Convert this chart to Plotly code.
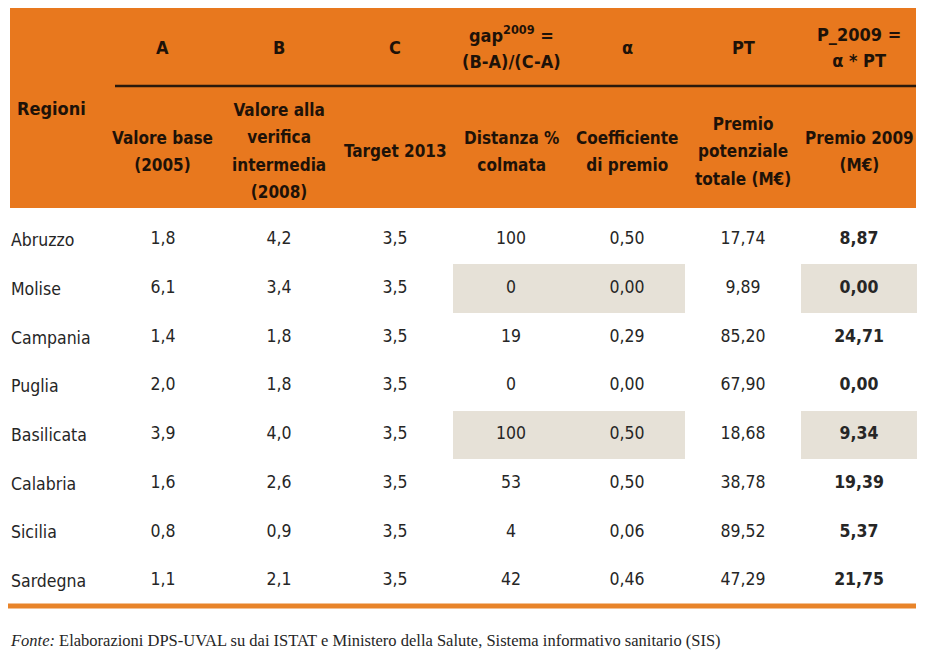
import plotly.graph_objects as go

# dati della tabella
regioni = ["Abruzzo", "Molise", "Campania", "Puglia", "Basilicata",
           "Calabria", "Sicilia", "Sardegna"]
colonne = ["Regioni", "A", "B", "C", "gap", "alpha", "PT", "P2009"]

valore_base = [1.8, 6.1, 1.4, 2.0, 3.9, 1.6, 0.8, 1.1]
valore_2008 = [4.2, 3.4, 1.8, 1.8, 4.0, 2.6, 0.9, 2.1]
target_2013 = [3.5, 3.5, 3.5, 3.5, 3.5, 3.5, 3.5, 3.5]
distanza = [100, 0, 19, 0, 100, 53, 4, 42]
coefficiente = [0.50, 0.00, 0.29, 0.00, 0.50, 0.50, 0.06, 0.46]
premio_potenziale = [17.74, 9.89, 85.20, 67.90, 18.68, 38.78, 89.52, 47.29]
premio_2009 = [8.87, 0.00, 24.71, 0.00, 9.34, 19.39, 5.37, 21.75]

# celle evidenziate (regione, colonna)
evidenziate = [("Molise", "gap"), ("Molise", "alpha"), ("Molise", "P2009"),
               ("Basilicata", "gap"), ("Basilicata", "alpha"), ("Basilicata", "P2009")]

intestazione_sopra = [["A"], ["B"], ["C"], ["gap<sup>2009</sup> =", "(B-A)/(C-A)"], ["α"], ["PT"],
                      ["P_2009 =", "α * PT"]]
intestazione_sotto = [["Valore base", "(2005)"], ["Valore alla", "verifica", "intermedia", "(2008)"],
                      ["Target 2013"], ["Distanza %", "colmata"], ["Coefficiente", "di premio"],
                      ["Premio", "potenziale", "totale (M€)"], ["Premio 2009", "(M€)"]]

W, H = 929, 667
OFF = 8  # margine della pagina html
ORANGE = "#E8781E"
SHADE = "#E6E1D7"
TXT = "#262626"
HTXT = "#1e1208"
FONT = "DejaVu Sans Condensed, sans-serif"


def fx(p):
    return (p - OFF) / W


def fy(p):
    return 1 - (p - OFF) / H


def fmt(v, d):
    return f"{v:.{d}f}".replace(".", ",")


def head(lines, size):
    # interlinea larga, testo più piccolo
    return "<br>".join(f"<b><span style='font-size:{size}px'>{l}</span></b>" for l in lines)


fig = go.Figure()

# ombreggiatura celle
z = [[1 if (r, c) in evidenziate else None for c in colonne] for r in regioni]
fig.add_trace(go.Heatmap(x=colonne, y=regioni, z=z, colorscale=[[0, SHADE], [1, SHADE]],
                         showscale=False, hoverinfo="skip"))

serie = [("A", valore_base, 1, False), ("B", valore_2008, 1, False),
         ("C", target_2013, 1, False), ("gap", distanza, 0, False),
         ("alpha", coefficiente, 2, False), ("PT", premio_potenziale, 2, False),
         ("P2009", premio_2009, 2, True)]
for col, vals, dec, bold in serie:
    testo = [fmt(v, dec) for v in vals]
    if bold:
        testo = [f"<b>{t}</b>" for t in testo]
    fig.add_trace(go.Scatter(x=[col] * len(regioni), y=regioni, mode="text", text=testo,
                             textfont=dict(family=FONT, size=17.5, color=TXT),
                             hoverinfo="skip", showlegend=False))

shapes = [
    dict(type="rect", xref="paper", yref="paper", x0=fx(10), x1=fx(916), y0=fy(8), y1=fy(208),
         fillcolor=ORANGE, line_width=0, layer="below"),
    dict(type="line", xref="paper", yref="paper", x0=fx(115), x1=fx(916), y0=fy(86), y1=fy(86),
         line=dict(color="#2a1a0c", width=2.5)),
    dict(type="line", xref="paper", yref="paper", x0=fx(8), x1=fx(916), y0=fy(606), y1=fy(606),
         line=dict(color="#E8842A", width=5)),
]

annotations = [dict(x=fx(15), y=fy(108), xref="paper", yref="paper", xanchor="left",
                    yanchor="middle", text=head(["Regioni"], 18), showarrow=False,
                    font=dict(family=FONT, size=18, color=HTXT))]
for col, top, bot in zip(colonne[1:], intestazione_sopra, intestazione_sotto):
    annotations.append(dict(x=col, y=fy(47), xref="x", yref="paper", yanchor="middle",
                            text=head(top, 18), showarrow=False,
                            font=dict(family=FONT, size=20, color=HTXT)))
    annotations.append(dict(x=col, y=fy(151), xref="x", yref="paper", yanchor="middle",
                            text=head(bot, 17), showarrow=False,
                            font=dict(family=FONT, size=21, color=HTXT)))
annotations.append(dict(x=fx(8), y=fy(640), xref="paper", yref="paper", xanchor="left",
                        yanchor="middle", showarrow=False,
                        text="<i>Fonte:</i> Elaborazioni DPS-UVAL su dai ISTAT e Ministero della Salute, "
                             "Sistema informativo sanitario (SIS)",
                        font=dict(family="Liberation Serif, serif", size=16.5, color=TXT)))

fig.update_layout(
    width=W, height=H, margin=dict(l=0, r=0, t=0, b=0),
    paper_bgcolor="white", plot_bgcolor="rgba(0,0,0,0)",
    shapes=shapes, annotations=annotations, showlegend=False,
    xaxis=dict(range=[-0.336, 7.672], visible=False, fixedrange=True),
    yaxis=dict(range=[8.932, -4.764], showgrid=False, zeroline=False, showline=False,
               ticks="", ticklabelposition="inside", fixedrange=True,
               tickfont=dict(family=FONT, size=17.5, color=TXT)),
)

fig.write_html("out.html")
